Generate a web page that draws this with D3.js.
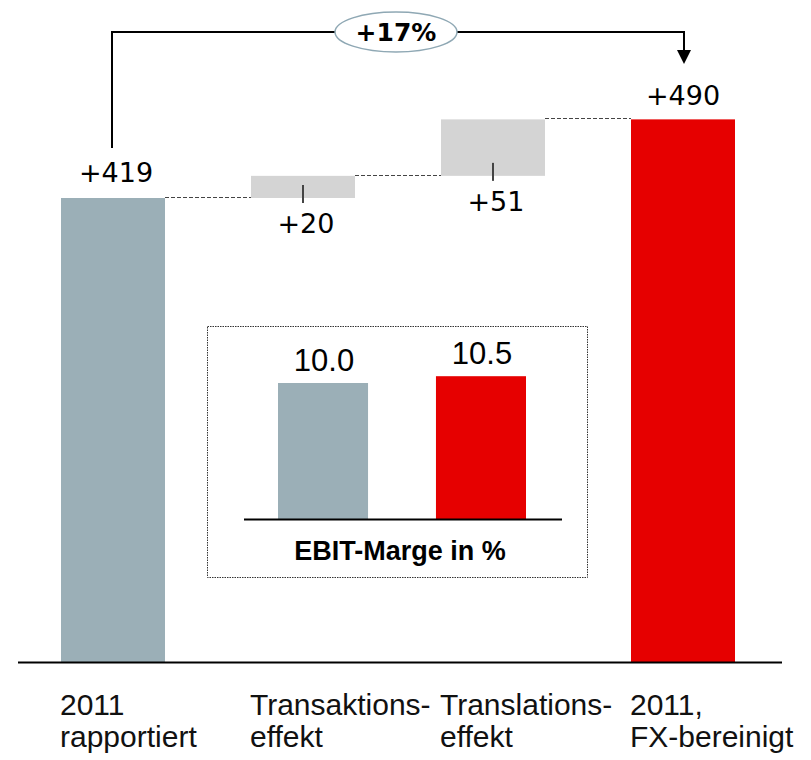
<!DOCTYPE html>
<html><head><meta charset="utf-8">
<script src="https://cdn.jsdelivr.net/npm/d3@7"></script>
<style>html,body{margin:0;padding:0;background:#fff}</style>
</head><body>
<svg id="c" width="811" height="760"></svg>
<script>
// Data
const categories = ["2011 rapportiert", "Transaktionseffekt", "Translationseffekt", "2011, FX-bereinigt"];
const labelLines = [["2011", "rapportiert"], ["Transaktions-", "effekt"], ["Translations-", "effekt"], ["2011,", "FX-bereinigt"]];
const values = [419, 20, 51, 490];
const kinds = ["total", "delta", "delta", "total"];
const valueLabels = ["+419", "+20", "+51", "+490"];
const growthLabel = "+17%";
const insetCategories = ["2011 rapportiert", "2011, FX-bereinigt"];
const insetValues = [10.0, 10.5];
const insetLabels = ["10.0", "10.5"];
const insetTitle = "EBIT-Marge in %";

const colors = {total0: "#9bafb7", total1: "#e60000", delta: "#d4d4d4"};

const svg = d3.select("#c");
const x = d3.scaleBand().domain(categories).range([61, 735]).paddingInner(0.4526).paddingOuter(0);
const y = d3.scaleLinear().domain([0, 419]).range([662, 198]);

// compute waterfall extents
let run = 0;
const bars = categories.map((c, i) => {
  let lo, hi;
  if (kinds[i] === "total") { lo = 0; hi = values[i]; run = values[i]; }
  else { lo = run; hi = run + values[i]; run = hi; }
  return {c, i, lo, hi, kind: kinds[i]};
});

// bars
svg.selectAll("rect.bar").data(bars).enter().append("rect")
  .attr("class", "bar")
  .attr("x", d => x(d.c)).attr("width", x.bandwidth())
  .attr("y", d => y(d.hi)).attr("height", d => y(d.lo) - y(d.hi))
  .attr("fill", d => d.kind === "delta" ? colors.delta : (d.i === 0 ? colors.total0 : colors.total1));

// dashed connectors
for (let i = 0; i < bars.length - 1; i++) {
  svg.append("line")
    .attr("x1", x(bars[i].c) + x.bandwidth()).attr("x2", x(bars[i + 1].c))
    .attr("y1", Math.round(y(bars[i].hi)) - 0.5).attr("y2", Math.round(y(bars[i].hi)) - 0.5)
    .attr("stroke", "#444").attr("stroke-width", 1).attr("stroke-dasharray", "4,2");
}

// delta ticks and labels
bars.filter(d => d.kind === "delta").forEach(d => {
  const cx = x(d.c) + x.bandwidth() / 2;
  svg.append("line").attr("x1", cx).attr("x2", cx)
    .attr("y1", y(d.lo) - 13).attr("y2", y(d.lo) + 5)
    .attr("stroke", "#444").attr("stroke-width", 2);
  svg.append("text").attr("x", cx + 3).attr("y", y(d.lo) + 35)
    .attr("text-anchor", "middle").attr("font-family", "DejaVu Sans").attr("font-size", 27)
    .attr("fill", "#000").text(valueLabels[d.i]);
});

// total labels
bars.filter(d => d.kind === "total").forEach(d => {
  const cx = x(d.c) + x.bandwidth() / 2;
  svg.append("text").attr("x", cx + (d.i === 0 ? 3 : 0)).attr("y", y(d.hi) - (d.i === 0 ? 16 : 14))
    .attr("text-anchor", "middle").attr("font-family", "DejaVu Sans").attr("font-size", 27)
    .attr("fill", "#000").text(valueLabels[d.i]);
});

// baseline
svg.append("line").attr("x1", 18).attr("x2", 782).attr("y1", y(0) + 0.5).attr("y2", y(0) + 0.5)
  .attr("stroke", "#000").attr("stroke-width", 2);

// category labels
labelLines.forEach((lines, i) => {
  const t = svg.append("text").attr("font-family", "Liberation Sans, Arial, sans-serif").attr("font-size", 30).attr("fill", "#111");
  lines.forEach((ln, k) => {
    t.append("tspan").attr("x", x(categories[i]) - 1).attr("y", 715 + k * 32).text(ln);
  });
});

// growth connector
const xa = x(categories[0]) + x.bandwidth() / 2 - 1;
const xb = x(categories[3]) + x.bandwidth() / 2 + 1;
const topY = 32;
svg.append("path")
  .attr("d", `M${xa},${y(values[0]) - 50} V${topY} H${xb} V${52}`)
  .attr("fill", "none").attr("stroke", "#000").attr("stroke-width", 2);
svg.append("path")
  .attr("d", `M${xb - 7},${50} L${xb + 7},${50} L${xb},${64} Z`).attr("fill", "#000");
const ex = (xa + xb) / 2 - 2;
svg.append("ellipse").attr("cx", ex).attr("cy", topY).attr("rx", 61).attr("ry", 20)
  .attr("fill", "#fff").attr("stroke", "#8fa8b4").attr("stroke-width", 1.5);
svg.append("text").attr("x", ex).attr("y", topY + 9).attr("text-anchor", "middle")
  .attr("font-family", "DejaVu Sans").attr("font-weight", "bold").attr("font-size", 25)
  .attr("fill", "#000").text(growthLabel);

// inset
svg.append("rect").attr("x", 207.5).attr("y", 326.5).attr("width", 380).attr("height", 251)
  .attr("fill", "none").attr("stroke", "#333").attr("stroke-width", 1).attr("stroke-dasharray", "1.5,1");
const xi = d3.scaleBand().domain(insetCategories).range([278, 526]).paddingInner(0.43).paddingOuter(0);
const yi = d3.scaleLinear().domain([0, 10]).range([519, 383]);
svg.selectAll("rect.ibar").data(insetValues).enter().append("rect")
  .attr("x", (d, i) => xi(insetCategories[i])).attr("width", xi.bandwidth())
  .attr("y", d => yi(d)).attr("height", d => yi(0) - yi(d))
  .attr("fill", (d, i) => i === 0 ? colors.total0 : colors.total1);
svg.selectAll("text.ival").data(insetValues).enter().append("text")
  .attr("x", (d, i) => xi(insetCategories[i]) + xi.bandwidth() / 2 + 1)
  .attr("y", d => yi(d) - 12)
  .attr("text-anchor", "middle").attr("font-family", "Liberation Sans, Arial, sans-serif").attr("font-size", 31)
  .attr("fill", "#000").text((d, i) => insetLabels[i]);
svg.append("line").attr("x1", 244).attr("x2", 562).attr("y1", yi(0) + 0.5).attr("y2", yi(0) + 0.5)
  .attr("stroke", "#000").attr("stroke-width", 2);
svg.append("text").attr("x", 400).attr("y", 560).attr("text-anchor", "middle")
  .attr("font-family", "Liberation Sans, Arial, sans-serif").attr("font-weight", "bold").attr("font-size", 27)
  .attr("fill", "#000").text(insetTitle);
</script>
</body></html>
